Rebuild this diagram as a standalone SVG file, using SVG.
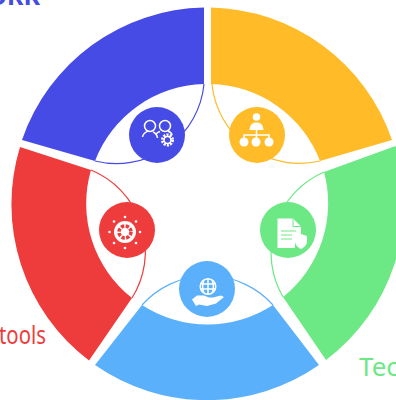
<svg xmlns="http://www.w3.org/2000/svg" width="396" height="400" viewBox="0 0 396 400">
<style>
.lab{font-family:"Noto Sans","Liberation Sans",sans-serif}
.thin{fill:none;stroke-width:1.2}
.ic{fill:none;stroke:#fff;stroke-width:1.5}
.wf{fill:#fff;stroke:none}
</style>
<rect width="396" height="400" fill="#fff"/>
<text class="lab" x="40" y="5" text-anchor="end" font-size="25" font-weight="700" fill="#474BE5">ORK</text>
<text class="lab" x="-1" y="344" font-size="26" fill="#EE3C3C" textLength="47" lengthAdjust="spacingAndGlyphs">tools</text>
<text class="lab" x="359" y="376" font-size="26" fill="#6CE885">Tech</text>
<g id="connectors">
<path class="thin" stroke="#474BE5" d="M95,161A88,88 0 0 0 204,84"/>
<path class="thin" stroke="#FFBB28" d="M212,84A88,88 0 0 0 320,161"/>
<path class="thin" stroke="#6CE885" d="M324,172A88,88 0 0 0 283,297"/>
<path class="thin" stroke="#EE3C3C" d="M91,170A88,88 0 0 1 132,298"/>
<path class="thin" stroke="#5BB0FC" d="M142,305A88,88 0 0 1 273,305"/>
</g>
<g id="segment-blue"><path fill="#474BE5" d="M204,7.5A196,196 0 0 0 22,140L95,161A120,120 0 0 1 204,84Z"/></g>
<g id="segment-orange"><path fill="#FFBB28" d="M211,7.5A196,196 0 0 1 392,140L320,161A120,120 0 0 0 211,84Z"/></g>
<g id="segment-green"><path fill="#6CE885" d="M395.5,146A196,196 0 0 1 326,360L283,297A120,120 0 0 0 324,172Z"/></g>
<g id="segment-red"><path fill="#EE3C3C" d="M20,147A196,196 0 0 0 89,360.5L132,298A120,120 0 0 1 91,170Z"/></g>
<g id="segment-lightblue"><path fill="#5BB0FC" d="M95,365A196,196 0 0 0 319,365L273,305A120,120 0 0 1 142,305Z"/></g>
<g id="node-blue">
<circle cx="157" cy="135" r="28" fill="#474BE5"/>
<circle class="ic" cx="150" cy="126" r="5.5"/><circle class="ic" cx="165" cy="126" r="5.5"/>
<path class="ic" d="M142.5,137C143,133 146,132 148,131M153,132C156,133 157,135 157.500,138M160,131.500C158,132 157,133 156,134M168,131C170,132 172,133 172,135"/>
<circle cx="167.500" cy="140" r="5" fill="none" stroke="#fff" stroke-width="3" stroke-dasharray="2 1.140"/>
<circle class="ic" cx="167.500" cy="140" r="3.400" stroke-width="1"/>
</g>
<g id="node-orange">
<circle cx="257" cy="135" r="28" fill="#FFBB28"/>
<circle class="wf" cx="256.500" cy="117" r="3.800"/>
<path class="wf" d="M249.500,130C250,124 253,122.500 256.500,122.500C260,122.500 263,124 263.500,130Z"/>
<path class="ic" stroke-width="1.100" d="M256.500,130V141M244,141V135H269V141"/>
<circle class="wf" cx="244" cy="142" r="4.500"/><circle class="wf" cx="256" cy="142" r="4.500"/><circle class="wf" cx="269" cy="142" r="4.500"/>
</g>
<g id="node-red">
<circle cx="127" cy="230" r="28" fill="#EE3C3C"/>
<circle cx="125" cy="232" r="11" fill="#fff"/>
<circle cx="125" cy="232" r="6" fill="none" stroke="#EE3C3C" stroke-width="3.600" stroke-dasharray="3.300 1.400"/>
<g class="wf"><circle cx="125" cy="217" r="1.300"/><circle cx="125" cy="248" r="1.300"/><circle cx="109.500" cy="232" r="1.300"/><circle cx="140" cy="232" r="1.300"/><circle cx="114" cy="221.500" r="1.300"/><circle cx="136" cy="221.500" r="1.300"/><circle cx="114" cy="243" r="1.300"/><circle cx="136" cy="243" r="1.300"/></g>
</g>
<g id="node-green">
<circle cx="288" cy="230" r="28" fill="#6CE885"/>
<path class="wf" d="M277.500,218.500H293L301,226.500V236L295,238V248H277.500Z"/>
<path fill="none" stroke="#6CE885" stroke-width="1" d="M293,218.500V226.500H301M281,231H296M281,235H292M281,239H292"/>
<path class="wf" stroke="#6CE885" stroke-width="1" d="M301,234L307,236V241C307,245 304,247.500 301,249C298,247.500 295,245 295,241V236Z"/>
</g>
<g id="node-lightblue">
<circle cx="207" cy="289" r="28" fill="#5BB0FC"/>
<circle class="ic" stroke-width="1" cx="208" cy="286.500" r="7.800"/>
<path class="ic" stroke-width="1" d="M200.500,284H215.500M200.500,289H215.500M208,278.700V294.300M204,280C202,284.500 202,288.500 204,293M212,280C214,284.500 214,288.500 212,293"/>
<path class="wf" d="M192,299.500L197,295.500H204L209,297.500L213,297.500L221,295.500L224,297L216,303.500L207,306L199,304.500L196,306Z"/>
</g>
</svg>
